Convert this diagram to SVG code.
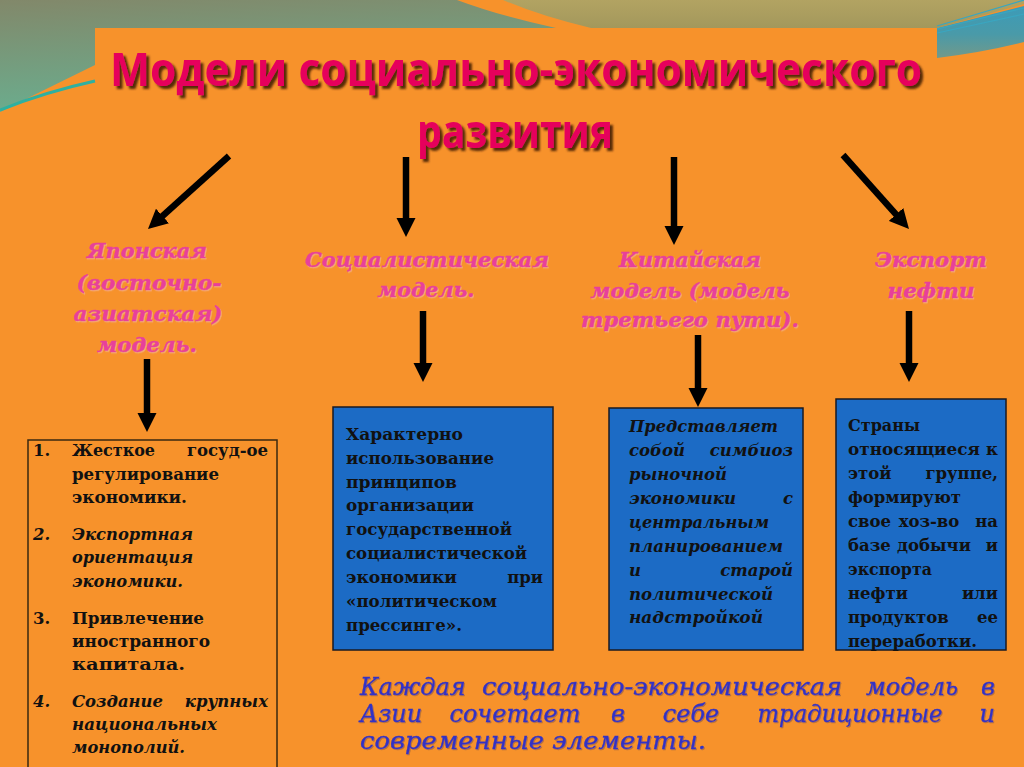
<svg xmlns="http://www.w3.org/2000/svg" width="1024" height="767" viewBox="0 0 1024 767">
<defs>
<linearGradient id="gGreen" x1="0" y1="0" x2="0.25" y2="1">
<stop offset="0" stop-color="#82886A"/>
<stop offset="1" stop-color="#6AAE8F"/>
</linearGradient>
<linearGradient id="gOlive" x1="0" y1="0" x2="0" y2="1">
<stop offset="0" stop-color="#B2A362"/>
<stop offset="1" stop-color="#A3985C"/>
</linearGradient>
<linearGradient id="gTeal" x1="0" y1="0" x2="0" y2="1">
<stop offset="0" stop-color="#3C9BB8"/>
<stop offset="0.55" stop-color="#4A9AA8"/>
<stop offset="1" stop-color="#72998A"/>
</linearGradient>
<filter id="fTitle" x="-10%" y="-30%" width="120%" height="170%">
<feDropShadow dx="3" dy="3" stdDeviation="1" flood-color="#3A1400" flood-opacity="0.85"/>
</filter>
<filter id="fLbl" x="-10%" y="-30%" width="120%" height="170%">
<feDropShadow dx="1" dy="1.2" stdDeviation="0.3" flood-color="#F2B8A0" flood-opacity="0.6"/>
</filter>
<filter id="fNote" x="-10%" y="-30%" width="120%" height="170%">
<feDropShadow dx="1" dy="1" stdDeviation="0.5" flood-color="#8A5A40" flood-opacity="0.6"/>
</filter>
<marker id="ah" viewBox="0 0 10 10" refX="6" refY="5" markerWidth="3" markerHeight="3.1" orient="auto" markerUnits="strokeWidth">
<path d="M0,0 L10,5 L0,10 z" fill="#000"/>
</marker>
<style>
.title{font-family:"Open Sans","Liberation Sans",sans-serif;font-weight:700;font-size:46px;fill:#E6035C;text-anchor:middle;}
.lbl{font-family:"DejaVu Serif","Liberation Serif",serif;font-weight:700;font-style:italic;font-size:21px;fill:#E8409A;stroke:#E8409A;stroke-width:0.5;text-anchor:middle;}
.bx{font-family:"DejaVu Serif","Liberation Serif",serif;font-weight:700;font-size:16.5px;fill:#111;}
.it{font-style:italic;}
.r{text-anchor:end;}
.m{text-anchor:middle;}
.note{font-family:"DejaVu Serif","Liberation Serif",serif;font-style:italic;font-size:24px;fill:#3232C4;stroke:#3232C4;stroke-width:0.35;}
.blue{fill:#1C6BC5;stroke:#1A1A22;stroke-width:1.5;}
.org{fill:none;stroke:#3A2810;stroke-width:1.5;}
.conn{stroke:#000;stroke-width:6.5;fill:none;marker-end:url(#ah);}
</style>
</defs>

<!-- background -->
<rect x="0" y="0" width="1024" height="767" fill="#F7922B"/>
<path d="M0,0 L457,0 Q500,16 556,28 L95,28 L95,65 L30,97 L0,112 Z" fill="url(#gGreen)"/>
<path d="M503,0 L1024,0 L1024,4 L937,28 L591,28 Q540,16 503,0 Z" fill="url(#gOlive)"/>
<path d="M937,28 L1024,6 L1024,42 Q985,52 937,58 Z" fill="url(#gTeal)"/>
<path d="M937,26 L1024,0 M937,29 L1024,8 M937,33 L1024,14" stroke="#3AA6C0" stroke-width="1.2" fill="none"/>
<path d="M95,81 Q45,92 0,110" stroke="#2FB0A0" stroke-width="3" fill="none"/>

<g id="title" filter="url(#fTitle)">
<text class="title" x="516" y="86" textLength="812" lengthAdjust="spacingAndGlyphs">Модели социально-экономического</text>
<text class="title" x="515" y="148" textLength="196" lengthAdjust="spacingAndGlyphs">развития</text>
</g>

<g id="connectors">
<path class="conn" d="M229,156 L153.8,223.8"/>
<path class="conn" d="M406,157 L406,229.2"/>
<path class="conn" d="M674,157 L674,237.2"/>
<path class="conn" d="M843,155 L903.8,223.2"/>
<path class="conn" d="M147,359 L147,424.2"/>
<path class="conn" d="M423,311 L423,374.2"/>
<path class="conn" d="M698,335 L698,399.2"/>
<path class="conn" d="M909,311 L909,374.2"/>
</g>

<g id="label-japan" filter="url(#fLbl)">
<text class="lbl" x="147" y="258" textLength="120" lengthAdjust="spacingAndGlyphs">Японская</text>
<text class="lbl" x="149" y="290" textLength="145" lengthAdjust="spacingAndGlyphs">(восточно-</text>
<text class="lbl" x="148" y="321" textLength="149" lengthAdjust="spacingAndGlyphs">азиатская)</text>
<text class="lbl" x="147" y="352" textLength="100" lengthAdjust="spacingAndGlyphs">модель.</text>
</g>

<g id="label-social" filter="url(#fLbl)">
<text class="lbl" x="427" y="267" textLength="244" lengthAdjust="spacingAndGlyphs">Социалистическая</text>
<text class="lbl" x="426" y="297" textLength="97" lengthAdjust="spacingAndGlyphs">модель.</text>
</g>

<g id="label-china" filter="url(#fLbl)">
<text class="lbl" x="690" y="267" textLength="142" lengthAdjust="spacingAndGlyphs">Китайская</text>
<text class="lbl" x="690" y="298" textLength="199" lengthAdjust="spacingAndGlyphs">модель (модель</text>
<text class="lbl" x="690" y="327" textLength="218" lengthAdjust="spacingAndGlyphs">третьего пути).</text>
</g>

<g id="label-oil" filter="url(#fLbl)">
<text class="lbl" x="931" y="267" textLength="112" lengthAdjust="spacingAndGlyphs">Экспорт</text>
<text class="lbl" x="931" y="298" textLength="87" lengthAdjust="spacingAndGlyphs">нефти</text>
</g>

<g id="box-japan">
<rect class="org" x="28" y="440" width="249" height="340"/>
<text class="bx" x="33" y="456">1.</text>
<text class="bx" x="72" y="456" textLength="83" lengthAdjust="spacingAndGlyphs">Жесткое</text>
<text class="bx r" x="268" y="456">госуд-ое</text>
<text class="bx" x="72" y="480" textLength="147" lengthAdjust="spacingAndGlyphs">регулирование</text>
<text class="bx" x="72" y="503" textLength="115" lengthAdjust="spacingAndGlyphs">экономики.</text>
<text class="bx it" x="33" y="540">2.</text>
<text class="bx it" x="72" y="540" textLength="121" lengthAdjust="spacingAndGlyphs">Экспортная</text>
<text class="bx it" x="72" y="563" textLength="121" lengthAdjust="spacingAndGlyphs">ориентация</text>
<text class="bx it" x="72" y="587" textLength="111" lengthAdjust="spacingAndGlyphs">экономики.</text>
<text class="bx" x="33" y="624">3.</text>
<text class="bx" x="72" y="624" textLength="132" lengthAdjust="spacingAndGlyphs">Привлечение</text>
<text class="bx" x="72" y="647" textLength="138" lengthAdjust="spacingAndGlyphs">иностранного</text>
<text class="bx" x="72" y="670" textLength="113" lengthAdjust="spacingAndGlyphs">капитала.</text>
<text class="bx it" x="33" y="707">4.</text>
<text class="bx it" x="72" y="707" textLength="91" lengthAdjust="spacingAndGlyphs">Создание</text>
<text class="bx it r" x="268" y="707">крупных</text>
<text class="bx it" x="72" y="730" textLength="145" lengthAdjust="spacingAndGlyphs">национальных</text>
<text class="bx it" x="72" y="753" textLength="113" lengthAdjust="spacingAndGlyphs">монополий.</text>
</g>

<g id="box-social">
<rect class="blue" x="333" y="407" width="220" height="243"/>
<text class="bx" x="346" y="440" textLength="117" lengthAdjust="spacingAndGlyphs">Характерно</text>
<text class="bx" x="346" y="464" textLength="148" lengthAdjust="spacingAndGlyphs">использование</text>
<text class="bx" x="346" y="488" textLength="111" lengthAdjust="spacingAndGlyphs">принципов</text>
<text class="bx" x="346" y="511" textLength="128" lengthAdjust="spacingAndGlyphs">организации</text>
<text class="bx" x="346" y="535" textLength="166" lengthAdjust="spacingAndGlyphs">государственной</text>
<text class="bx" x="346" y="559" textLength="181" lengthAdjust="spacingAndGlyphs">социалистической</text>
<text class="bx" x="346" y="583" textLength="111" lengthAdjust="spacingAndGlyphs">экономики</text>
<text class="bx r" x="543" y="583">при</text>
<text class="bx" x="346" y="607" textLength="151" lengthAdjust="spacingAndGlyphs">«политическом</text>
<text class="bx" x="346" y="631" textLength="116" lengthAdjust="spacingAndGlyphs">прессинге».</text>
</g>

<g id="box-china">
<rect class="blue" x="609" y="408" width="194" height="242"/>
<text class="bx it" x="629" y="432" textLength="149" lengthAdjust="spacingAndGlyphs">Представляет</text>
<text class="bx it" x="629" y="456">собой</text>
<text class="bx it r" x="793" y="456">симбиоз</text>
<text class="bx it" x="629" y="480" textLength="98" lengthAdjust="spacingAndGlyphs">рыночной</text>
<text class="bx it" x="629" y="504" textLength="107" lengthAdjust="spacingAndGlyphs">экономики</text>
<text class="bx it r" x="793" y="504">с</text>
<text class="bx it" x="629" y="528" textLength="140" lengthAdjust="spacingAndGlyphs">центральным</text>
<text class="bx it" x="629" y="552" textLength="154" lengthAdjust="spacingAndGlyphs">планированием</text>
<text class="bx it" x="629" y="576">и</text>
<text class="bx it r" x="793" y="576">старой</text>
<text class="bx it" x="629" y="600" textLength="144" lengthAdjust="spacingAndGlyphs">политической</text>
<text class="bx it" x="629" y="623" textLength="134" lengthAdjust="spacingAndGlyphs">надстройкой</text>
</g>

<g id="box-oil">
<rect class="blue" x="836" y="399" width="170" height="251"/>
<text class="bx" x="848" y="431" textLength="72" lengthAdjust="spacingAndGlyphs">Страны</text>
<text class="bx" x="848" y="455" textLength="132" lengthAdjust="spacingAndGlyphs">относящиеся</text>
<text class="bx r" x="998" y="455">к</text>
<text class="bx" x="848" y="479">этой</text>
<text class="bx r" x="998" y="479">группе,</text>
<text class="bx" x="848" y="503" textLength="113" lengthAdjust="spacingAndGlyphs">формируют</text>
<text class="bx" x="848" y="527">свое</text>
<text class="bx m" x="929" y="527">хоз-во</text>
<text class="bx r" x="998" y="527">на</text>
<text class="bx" x="848" y="551">базе</text>
<text class="bx m" x="934" y="551">добычи</text>
<text class="bx r" x="998" y="551">и</text>
<text class="bx" x="848" y="575" textLength="84" lengthAdjust="spacingAndGlyphs">экспорта</text>
<text class="bx" x="848" y="599">нефти</text>
<text class="bx r" x="998" y="599">или</text>
<text class="bx" x="848" y="623">продуктов</text>
<text class="bx r" x="998" y="623">ее</text>
<text class="bx" x="848" y="647" textLength="129" lengthAdjust="spacingAndGlyphs">переработки.</text>
</g>

<g id="note-bottom" filter="url(#fNote)">
<text class="note" x="360" y="695">Каждая</text>
<text class="note" x="482" y="695" textLength="360" lengthAdjust="spacingAndGlyphs">социально-экономическая</text>
<text class="note m" x="912" y="695">модель</text>
<text class="note r" x="995" y="695">в</text>
<text class="note" x="360" y="722">Азии</text>
<text class="note m" x="515" y="722">сочетает</text>
<text class="note m" x="618" y="722">в</text>
<text class="note m" x="691" y="722">себе</text>
<text class="note m" x="850" y="722" textLength="185" lengthAdjust="spacingAndGlyphs">традиционные</text>
<text class="note r" x="995" y="722">и</text>
<text class="note" x="360" y="749" textLength="346" lengthAdjust="spacingAndGlyphs">современные элементы.</text>
</g>
</svg>
